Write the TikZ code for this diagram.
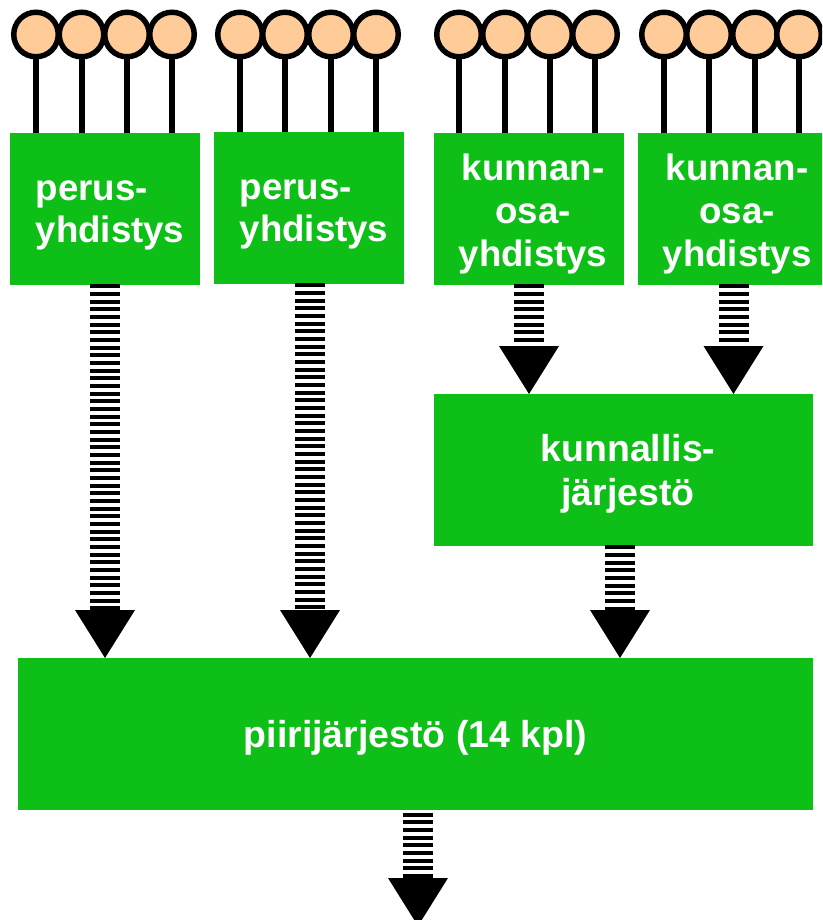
\documentclass[tikz,border=0pt]{standalone}
\usepackage{fontspec}
\setmainfont{Liberation Sans}
\definecolor{boxgreen}{HTML}{0DBF17}
\definecolor{headpeach}{HTML}{FFCC99}
\tikzset{
  box/.style={fill=boxgreen,draw=none,inner sep=0pt,minimum width=#1*0.75pt},
  lbl/.style={text=white,font=\fontsize{27.5pt}{32pt}\selectfont\bfseries,inner sep=0pt},
  lblwide/.style={text=white,font=\fontsize{28.1pt}{33pt}\selectfont\bfseries,inner sep=0pt},
  member/.style={circle,draw=black,line width=4.1pt,fill=headpeach,minimum size=33.4pt,inner sep=0pt},
  stem/.style={draw=black,line width=4.5pt},
  stripes/.style={draw=black,line width=22.5pt,dash pattern=on 3pt off 2.75pt},
  head/.style={fill=black,draw=none}
}
% \flow{from}{to}{x}: striped shaft and triangular head, from one box to another
\newcommand{\flow}[3]{%
  \coordinate (tip) at (#1.south -| #3);
  \coordinate (end) at (#2.north -| #3);
  \draw[stripes] ([yshift=1pt]tip) -- ([yshift=36pt]end);
  \fill[head] (end) -- ([shift={(-22.5pt,36pt)}]end) -- ([shift={(22.5pt,36pt)}]end) -- cycle;
}
\begin{document}
\begin{tikzpicture}[x=0.75pt,y=-0.75pt]
\useasboundingbox (0,0) rectangle (822,920);
\clip (0,0) rectangle (822,920);
% boxes
\node[box=190,minimum height=114pt,anchor=north west] (b1) at (10,133) {};
\node[box=190,minimum height=114pt,anchor=north west] (b2) at (214,132) {};
\node[box=190,minimum height=114pt,anchor=north west] (b3) at (434,133) {};
\node[box=190,minimum height=114pt,anchor=north west] (b4) at (638,133) {};
\node[box=379,minimum height=114pt,anchor=north west] (k) at (434,394) {};
\node[box=795,minimum height=114pt,anchor=north west] (p) at (18,658) {};
% labels
\node[lbl,align=left] (l1) at (110,215.5) {perus-\\yhdistys};
\node[lbl,align=left] (l2) at (314,214.5) {perus-\\yhdistys};
\node[lbl,align=center] (l3) at (533,214) {kunnan-\\osa-\\yhdistys};
\node[lbl,align=center] (l4) at (737,214) {kunnan-\\osa-\\yhdistys};
\node[lblwide,align=center] (lk) at (628,474) {kunnallis-\\järjestö};
\node[lblwide] (lp) at (415.5,738) {piirijärjestö (14 kpl)};
% members
\foreach \g/\bx/\xa/\xb/\xc/\xd in {a/b1/36/81.5/127/172,b/b2/240/285/331/376,c/b3/459/505/550/595,d/b4/664/709/755/799}{
  \foreach \n/\x in {1/\xa,2/\xb,3/\xc,4/\xd}{
    \node[member] (m\g\n) at (\x,34.5) {};
    \draw[stem] (m\g\n.south) -- (\bx.north -| m\g\n);
  }
}
% flows
\coordinate (x1) at (105,0);
\coordinate (x2) at (310,0);
\coordinate (x3) at (529,0);
\coordinate (x4) at (733.5,0);
\coordinate (x5) at (620,0);
\coordinate (x6) at (418,0);
\coordinate (bottom) at (418,926);
\flow{b1}{p}{x1}
\flow{b2}{p}{x2}
\flow{b3}{k}{x3}
\flow{b4}{k}{x4}
\flow{k}{p}{x5}
\draw[stripes] ([yshift=-1.5pt]p.south -| x6) -- ([yshift=36pt]bottom);
\fill[head] (bottom) -- ([shift={(-22.5pt,36pt)}]bottom) -- ([shift={(22.5pt,36pt)}]bottom) -- cycle;
\end{tikzpicture}
\end{document}
